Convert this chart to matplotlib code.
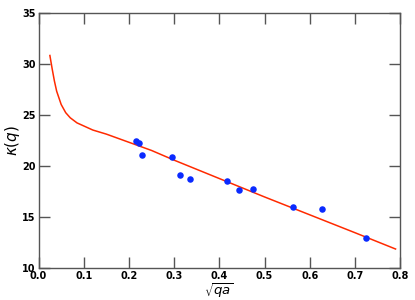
import matplotlib
matplotlib.use('Agg')
import matplotlib.pyplot as plt

# measured points
sqrt_qa = [0.216, 0.222, 0.229, 0.295, 0.313, 0.335, 0.418, 0.444, 0.474, 0.562, 0.627, 0.725]
kappa = [22.4, 22.2, 21.1, 20.9, 19.1, 18.7, 18.5, 17.6, 17.7, 16.0, 15.8, 12.9]

# fitted curve
fit_x = [0.025, 0.030, 0.035, 0.040, 0.050, 0.060, 0.070, 0.085, 0.10, 0.12,
         0.15, 0.20, 0.25, 0.30, 0.40, 0.50, 0.60, 0.70, 0.79]
fit_y = [30.8, 29.5, 28.3, 27.3, 26.0, 25.2, 24.7, 24.2, 23.9, 23.5,
         23.1, 22.3, 21.5, 20.55, 18.75, 16.95, 15.2, 13.45, 11.85]

fig = plt.figure(figsize=(4.15, 3.0), dpi=100)
ax = fig.add_axes([0.093, 0.107, 0.871, 0.851])

ax.plot(fit_x, fit_y, color='#ff2a00', lw=1.1, zorder=2)
ax.scatter(sqrt_qa, kappa, s=22, color='#0a2aff', zorder=3, linewidths=0)

ax.set_xlim(0, 0.8)
ax.set_ylim(10, 35)
ax.set_xticks([0.0, 0.1, 0.2, 0.3, 0.4, 0.5, 0.6, 0.7, 0.8])
ax.set_yticks([10, 15, 20, 25, 30, 35])

for s in ax.spines.values():
    s.set_color('#555555')
    s.set_linewidth(1.0)
ax.tick_params(direction='in', length=8, width=1, color='#555555',
               top=True, right=True, labelsize=7, pad=2)
for lab in ax.get_xticklabels() + ax.get_yticklabels():
    lab.set_fontweight('bold')

ax.set_xlabel(r'$\sqrt{qa}$', fontsize=9.5, va='center')
ax.set_ylabel(r'$\kappa(q)$', fontsize=11, va='center')
ax.xaxis.set_label_coords(0.5, -0.089)
ax.yaxis.set_label_coords(-0.072, 0.5)

fig.savefig('out.png', dpi=100)
